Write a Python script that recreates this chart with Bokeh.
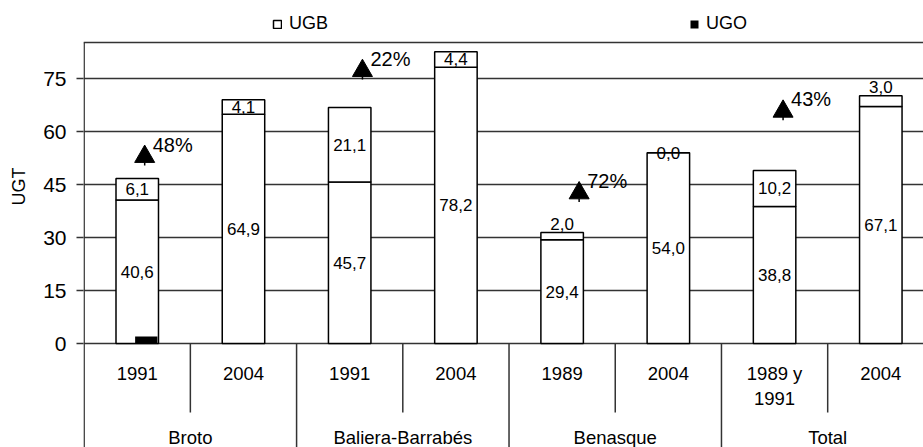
from bokeh.plotting import figure
from bokeh.models import Range1d, FixedTicker, Span, Legend, LegendItem
from bokeh.core.properties import value
from bokeh.embed import file_html
from bokeh.resources import INLINE

# ---------------- data ----------------
groups = ["Broto", "Baliera-Barrabés", "Benasque", "Total"]
group_sizes = [2, 2, 2, 2]
years = ["1991", "2004", "1991", "2004", "1989", "2004", "1989 y\n1991", "2004"]
ugb_base = [40.6, 64.9, 45.7, 78.2, 29.4, 54.0, 38.8, 67.1]
ugb_top = [6.1, 4.1, 21.1, 4.4, 2.0, 0.0, 10.2, 3.0]
ugo = [2.0, 0, 0, 0, 0, 0, 0, 0]
tri_x = [0.57, 2.62, 4.66, 6.58]
tri_y = [52.9, 77.2, 42.6, 65.7]
tri_labels = ["48%", "22%", "72%", "43%"]
y_ticks = [0, 15, 30, 45, 60, 75]
legend_names = ["UGB", "UGO"]
y_title = "UGT"

FONT = "Liberation Sans"
LINE = "#333333"

PLOT_TOP = 85.2      # top border of the plotting box
Y_TOP = 97.08        # frame top (room for legend)
Y_BOT = -29.4
X_START = -0.006
X_END = 7.902

p = figure(width=923, height=447,
           x_range=Range1d(X_START, X_END), y_range=Range1d(Y_BOT, Y_TOP),
           output_backend="svg", toolbar_location=None, x_axis_location=None,
           min_border_left=83, min_border_top=0, min_border_right=0,
           min_border_bottom=0, background_fill_color="white",
           border_fill_color="white")
p.outline_line_color = None
p.xgrid.visible = False

ticker = FixedTicker(ticks=y_ticks)
p.yaxis.ticker = ticker
p.ygrid.ticker = ticker
p.ygrid.grid_line_color = LINE
p.ygrid.grid_line_width = 1.5
p.yaxis.axis_line_color = None
p.yaxis.major_tick_line_color = LINE
p.yaxis.major_tick_line_width = 1.5
p.yaxis.major_tick_out = 7
p.yaxis.major_tick_in = 0
p.yaxis.minor_tick_line_color = None
p.yaxis.major_label_text_font = FONT
p.yaxis.major_label_text_font_size = "21px"
p.yaxis.major_label_text_color = "black"
p.yaxis.major_label_standoff = 10
p.yaxis.axis_label = "\u00a0" * 15 + y_title
p.yaxis.axis_label_text_font = FONT
p.yaxis.axis_label_text_font_size = "18px"
p.yaxis.axis_label_text_font_style = "normal"
p.yaxis.axis_label_text_color = "black"
p.yaxis.axis_label_standoff = 11

# plotting box: top border and left axis line
p.add_layout(Span(location=PLOT_TOP, dimension="width",
                  line_color=LINE, line_width=1.5))
p.segment(x0=[0], y0=[Y_BOT], x1=[0], y1=[PLOT_TOP], line_color=LINE,
          line_width=1.5)

# ---------------- bars ----------------
xs = [i + 0.5 for i in range(len(years))]
tops = [b + t for b, t in zip(ugb_base, ugb_top)]

r_ugb = p.vbar(x=xs, width=0.4, bottom=0, top=ugb_base, fill_color="white",
               line_color="black", line_width=1.5)
p.vbar(x=xs, width=0.4, bottom=ugb_base, top=tops, fill_color="white",
       line_color="black", line_width=1.5)
ugo_x = [x + 0.085 for x in xs]
r_ugo = p.vbar(x=ugo_x, width=0.21, bottom=0, top=ugo, fill_color="black",
               line_color=None)

def fmt(v):
    return f"{v:.1f}".replace(".", ",")

p.text(x=xs, y=[b / 2 for b in ugb_base], text=[fmt(v) for v in ugb_base],
       text_font=value(FONT), text_font_size="17px", text_align="center",
       text_baseline="middle", text_color="black")
top_label_y = []
for b, t in zip(ugb_base, ugb_top):
    if 0 < t < 3.5:
        top_label_y.append(b + t + 2.5)
    else:
        top_label_y.append(b + t / 2)
p.text(x=xs, y=top_label_y, text=[fmt(v) for v in ugb_top],
       text_font=value(FONT), text_font_size="17px", text_align="center",
       text_baseline="middle", text_color="black")

# ---------------- triangles ----------------
p.segment(x0=tri_x, y0=[y - 1.6 for y in tri_y], x1=tri_x,
          y1=[y - 2.5 for y in tri_y], line_color="black", line_width=1.5)
p.scatter(x=tri_x, y=tri_y, marker="triangle", size=20, fill_color="black",
          line_color="black")
p.text(x=tri_x, y=tri_y, text=tri_labels, x_offset=8, y_offset=-12,
       text_font=value(FONT), text_font_size="20px", text_align="left",
       text_baseline="middle", text_color="black")

# ---------------- category table below axis ----------------
bounds = [0]
for s in group_sizes:
    bounds.append(bounds[-1] + s)
long_x = bounds[1:-1]
short_x = []
for g in range(len(group_sizes)):
    for k in range(1, group_sizes[g]):
        short_x.append(bounds[g] + k)
p.segment(x0=short_x, y0=[0] * len(short_x), x1=short_x,
          y1=[-19.5] * len(short_x), line_color=LINE, line_width=1.5)
p.segment(x0=long_x, y0=[0] * len(long_x), x1=long_x,
          y1=[Y_BOT] * len(long_x), line_color=LINE, line_width=1.5)

line1 = [s.split("\n")[0] for s in years]
l2_x = [x for x, s in zip(xs, years) if "\n" in s]
l2_t = [s.split("\n")[1] for s in years if "\n" in s]
p.text(x=xs, y=[-8.5] * len(xs), text=line1, text_font=value(FONT),
       text_font_size="18.5px", text_align="center", text_baseline="middle",
       text_color="black")
p.text(x=l2_x, y=[-15.6] * len(l2_x), text=l2_t, text_font=value(FONT),
       text_font_size="18.5px", text_align="center", text_baseline="middle",
       text_color="black")
gcent = [(bounds[i] + bounds[i + 1]) / 2 for i in range(len(groups))]
p.text(x=gcent, y=[-26.6] * len(groups), text=groups, text_font=value(FONT),
       text_font_size="18.5px", text_align="center", text_baseline="middle",
       text_color="black")

# ---------------- legend ----------------
legend = Legend(items=[LegendItem(label=legend_names[0], renderers=[r_ugb]),
                       LegendItem(label=legend_names[1], renderers=[r_ugo])],
                orientation="horizontal", location=(189, 413),
                glyph_width=10, glyph_height=10, label_standoff=7, spacing=361,
                padding=0, margin=0, border_line_color=None,
                background_fill_alpha=0, label_text_font=FONT,
                label_text_font_size="18px", label_height=18,
                label_text_color="black")
p.add_layout(legend, "center")

open("out.html", "w").write(file_html(p, INLINE))
